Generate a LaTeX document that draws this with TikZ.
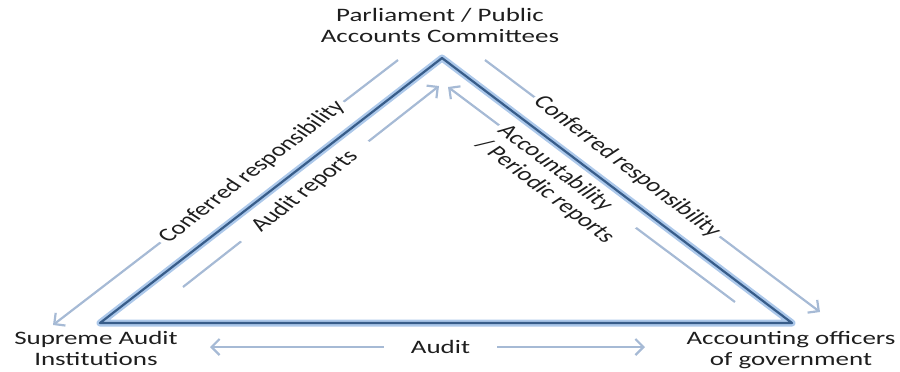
\documentclass[tikz,border=0pt]{standalone}
\usepackage{fontspec}
\setmainfont{Carlito}
\usetikzlibrary{arrows.meta}
\definecolor{triline}{RGB}{56,93,138}
\definecolor{triglow}{RGB}{172,200,234}
\definecolor{arrline}{RGB}{166,186,213}
\definecolor{lbltext}{RGB}{30,30,30}

\begin{document}
\begin{tikzpicture}[x=0.5pt, y=-0.5pt, >={Straight Barb[length=4pt,width=8pt]},
  lbl/.style={font=\fontsize{9.5}{10.5}\selectfont, text=lbltext, align=center, xscale=1.42, inner sep=1.5pt},
  flow/.style={draw=arrline, line width=1.1pt},
  gap/.style={fill=white}]
\useasboundingbox (0,0) rectangle (900,371);
\coordinate (par) at (442,58);
\coordinate (sai) at (100,323);
\coordinate (aog) at (792,323);
\node[lbl] (parl) at (440,25) {Parliament / Public\\Accounts Committees};
\node[lbl] (supr) at (96,348.5) {Supreme Audit\\Institutions};
\node[lbl] (acco) at (791,350.5) {Accounting officers\\of government};
\coordinate (cr1a) at (398,60);
\coordinate (cr1b) at (53,325);
\coordinate (ar1a) at (183,287);
\coordinate (ar1b) at (439,86);
\coordinate (cr2a) at (485,60);
\coordinate (cr2b) at (820,312);
\coordinate (pr2a) at (735,302);
\coordinate (pr2b) at (448,87);
\coordinate (aud1) at (210,347);
\coordinate (aud2) at (645,347);
\draw[flow, ->] (cr1a) -- node[lbl, gap, pos=0.423, rotate=47.5] (conf1) {Conferred responsibility} (cr1b);
\draw[flow, ->] (ar1a) -- node[lbl, gap, pos=0.476, rotate=47.7, inner xsep=8pt] (audrep) {Audit reports} (ar1b);
\draw[flow, ->] (cr2a) -- node[lbl, gap, pos=0.424, rotate=-47] (conf2) {Conferred responsibility} (cr2b);
\draw[flow, ->] (pr2a) -- (pr2b);
\node[lbl, gap, align=left, rotate=-47] (accrep) at (556,184) {Accountability\\/ Periodic reports};
\draw[flow, <->] (aud1) -- node[lbl, gap, pos=0.53, inner xsep=9.5pt] (audit) {Audit} (aud2);
\draw[triglow, line width=3.5pt, line join=round] (par) -- (aog) -- (sai) -- cycle;
\draw[triline, line width=1.1pt, line join=round] (par) -- (aog) -- (sai) -- cycle;
\end{tikzpicture}
\end{document}
